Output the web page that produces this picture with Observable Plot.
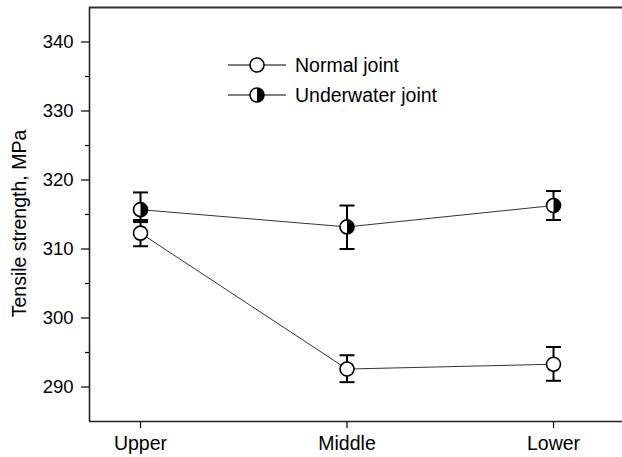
<!DOCTYPE html>
<html>
<head>
<meta charset="utf-8">
<script src="https://cdn.jsdelivr.net/npm/d3@7"></script>
<script src="https://cdn.jsdelivr.net/npm/@observablehq/plot@0.6"></script>
<style>
  html, body { margin: 0; padding: 0; background: #fff; }
  #chart { width: 622px; height: 457px; }
</style>
</head>
<body>
<div id="chart"></div>
<script>
const categories = ["Upper", "Middle", "Lower"];
const seriesNames = ["Normal joint", "Underwater joint"];
const yLabel = "Tensile strength, MPa";
const normalMean = [312.3, 292.6, 293.3];
const normalLow  = [310.4, 290.7, 290.9];
const normalHigh = [314.2, 294.6, 295.8];
const underMean  = [315.7, 313.2, 316.3];
const underLow   = [313.9, 310.0, 314.2];
const underHigh  = [318.2, 316.3, 318.4];
const yMajorTicks = [290, 300, 310, 320, 330, 340];
const yMinorTicks = [295, 305, 315, 325, 335];

const rows = [];
categories.forEach((c, i) => {
  rows.push({series: seriesNames[0], pos: i + 1, cat: c, mean: normalMean[i], lo: normalLow[i], hi: normalHigh[i]});
  rows.push({series: seriesNames[1], pos: i + 1, cat: c, mean: underMean[i], lo: underLow[i], hi: underHigh[i]});
});
const underRows = rows.filter(d => d.series === seriesNames[1]);

const rightHalf = {
  draw(ctx, size) {
    const r = Math.sqrt(size / Math.PI);
    ctx.moveTo(0, -r);
    ctx.arc(0, 0, r, -Math.PI / 2, Math.PI / 2);
    ctx.closePath();
  }
};
const capSym = {
  draw(ctx, size) {
    const w = Math.sqrt(size / Math.PI);
    ctx.moveTo(-w, 0);
    ctx.lineTo(w, 0);
  }
};

const X0 = 0.753, X1 = 3.334;
const Y0 = 285, Y1 = 345;
const FONT = "Liberation Sans, Arial, sans-serif";

const chart = Plot.plot({
  width: 622,
  height: 457,
  marginLeft: 89,
  marginRight: 0,
  marginTop: 7,
  marginBottom: 36,
  style: {fontFamily: FONT, fontSize: "19px", color: "#000", background: "#fff"},
  x: {domain: [X0, X1]},
  y: {domain: [Y0, Y1]},
  marks: [
    Plot.axisX({ticks: [1, 2, 3], tickFormat: d => categories[d - 1], tickSize: 7, tickPadding: 8, label: null, fontSize: 19.5, strokeWidth: 1.2}),
    Plot.axisY({ticks: yMajorTicks, tickSize: 8, tickPadding: 8, fontSize: 18.5, strokeWidth: 1.2, label: null}),
    Plot.axisY({ticks: yMinorTicks, tickSize: 4, tickFormat: () => "", strokeWidth: 1.2, label: null}),
    Plot.text([yLabel], {frameAnchor: "left", textAnchor: "middle", rotate: -90, dx: -70, dy: 9, fontSize: 19.5, fill: "#000", text: d => d}),
    Plot.ruleY([Y0], {stroke: "#222", strokeWidth: 1.6}),
    Plot.ruleY([Y1], {stroke: "#333", strokeWidth: 2}),
    Plot.ruleX([X0], {stroke: "#222", strokeWidth: 1.6}),
    Plot.line(rows, {x: "pos", y: "mean", z: "series", stroke: "#333", strokeWidth: 1}),
    Plot.ruleX(rows, {x: "pos", y1: "lo", y2: "hi", stroke: "#000", strokeWidth: 2}),
    Plot.dot(rows, {x: "pos", y: "lo", symbol: capSym, r: 7.5, stroke: "#000", strokeWidth: 2, fill: "none"}),
    Plot.dot(rows, {x: "pos", y: "hi", symbol: capSym, r: 7.5, stroke: "#000", strokeWidth: 2, fill: "none"}),
    Plot.dot(rows, {x: "pos", y: "mean", r: 7, fill: "#fff", stroke: "none"}),
    Plot.dot(underRows, {x: "pos", y: "mean", symbol: rightHalf, r: 7, fill: "#000", stroke: "none"}),
    Plot.dot(rows, {x: "pos", y: "mean", r: 7, fill: "none", stroke: "#000", strokeWidth: 1.6})
  ]
});

// Legend drawn into the same SVG
const svg = d3.select(chart);
const legend = svg.append("g")
  .style("font-family", FONT).style("font-size", "19.5px").attr("text-anchor", "start");
seriesNames.forEach((name, i) => {
  const g = legend.append("g").attr("transform", `translate(0, ${65 + i * 30})`);
  const r = 7;
  g.append("line").attr("x1", 228).attr("x2", 286).attr("y1", 0).attr("y2", 0).attr("stroke", "#000").attr("stroke-width", 1);
  g.append("circle").attr("cx", 257).attr("cy", 0).attr("r", r).attr("fill", "#fff");
  if (i === 1) {
    g.append("path").attr("d", `M257,${-r}A${r},${r} 0 0 1 257,${r}Z`).attr("fill", "#000");
  }
  g.append("circle").attr("cx", 257).attr("cy", 0).attr("r", r).attr("fill", "none").attr("stroke", "#000").attr("stroke-width", 1.6);
  g.append("text").attr("x", 295).attr("y", 0).attr("dy", "0.35em").attr("fill", "#000").attr("text-anchor", "start").text(name);
});

document.getElementById("chart").appendChild(chart);
</script>
</body>
</html>
